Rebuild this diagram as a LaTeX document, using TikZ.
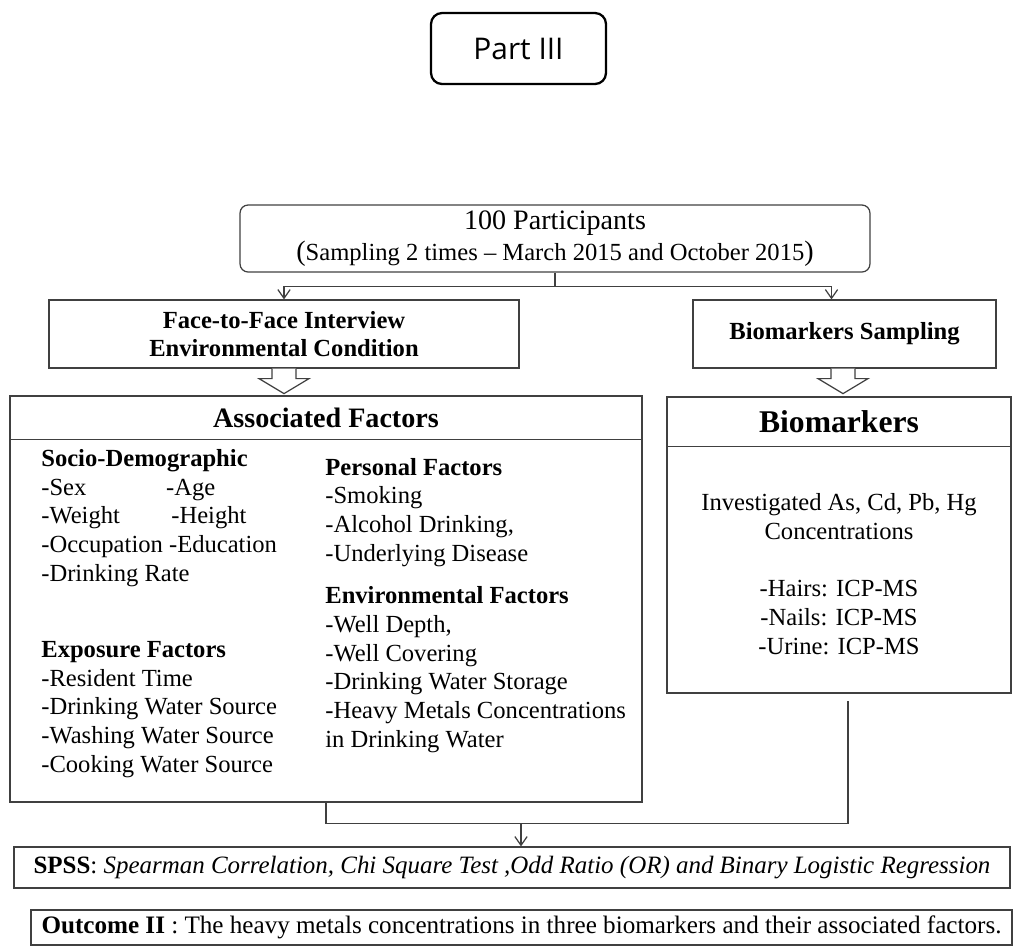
\documentclass[tikz,border=0pt]{standalone}
\usepackage{fontspec}
\setmainfont{Liberation Serif}
\newfontfamily\partfont{Open Sans}
\usetikzlibrary{arrows.meta,calc,positioning}
\definecolor{linegray}{HTML}{404040}

\tikzset{
	box/.style={draw=linegray, line width=0.7pt, rectangle, inner sep=0pt, align=center},
	roundbox/.style={box, rounded corners=0.16cm},
	partbox/.style={draw=black, line width=1.3pt, rounded corners=0.22cm, minimum width=3.5cm, minimum height=1.42cm, font=\partfont\fontsize{17}{20}\selectfont},
	wire/.style={draw=linegray, line width=0.7pt},
	arr/.style={wire, -{Straight Barb[length=5pt,width=7pt]}},
	hollow/.style={draw=linegray, line width=0.7pt, fill=white, line join=miter},
	listtext/.style={inner sep=0pt, align=left, anchor=base west, font=\fontsize{14}{16.3}\selectfont},
	head/.style={font=\bfseries\fontsize{16}{18}\selectfont, inner sep=0pt}
}

\begin{document}
\begin{tikzpicture}[x=0.02cm, y=-0.02cm, font=\fontsize{14}{16.3}\selectfont]
	\useasboundingbox (0,0) rectangle (1014,947);
	% Boxes:
	\node[partbox](part) at (518.5, 48.5){Part III};
	\node[roundbox, minimum width=12.6cm, minimum height=1.34cm](ppl) at (555, 238.5){{\fontsize{16}{18}\selectfont 100 Participants}\\[1pt] {\fontsize{16}{18}\selectfont(}Sampling 2 times -- March 2015 and October 2015{\fontsize{16}{18}\selectfont)}};
	\node[box, minimum width=9.4cm, minimum height=1.36cm, font=\bfseries\fontsize{14}{16.3}\selectfont](f2f) at (284, 334){Face-to-Face Interview\\ Environmental Condition};
	\node[box, minimum width=6.06cm, minimum height=1.36cm, font=\bfseries\fontsize{14}{16.3}\selectfont](bms) at (844.5, 334){Biomarkers Sampling};
	\node[box, minimum width=12.64cm, minimum height=8.12cm](assoc) at (326, 599){};
	\node[box, minimum width=6.88cm, minimum height=5.92cm](bio) at (839, 545){};
	\node[box, minimum width=19.92cm, minimum height=0.82cm, font=\fontsize{14.2}{16.3}\selectfont](spss) at (512, 867.5){\textbf{SPSS}: \textit{Spearman Correlation, Chi Square Test ,Odd Ratio (OR) and Binary Logistic Regression}};
	\node[box, minimum width=19.62cm, minimum height=0.7cm, font=\fontsize{14.3}{16.3}\selectfont](outc) at (521.5, 927.5){\textbf{Outcome II} : The heavy metals concentrations in three biomarkers and their associated factors.};
	\draw[wire] ($(assoc.north west)+(0,44)$) -- ($(assoc.north east)+(0,44)$);
	\draw[wire] ($(bio.north west)+(0,50)$) -- ($(bio.north east)+(0,50)$);
	% Texts in the two big boxes (placed at the baseline of their last line):
	\node[head](assoctitle) at (326, 418){Associated Factors};
	\node[head, font=\bfseries\fontsize{18}{20}\selectfont](biotitle) at (839, 422){Biomarkers};
	\node[listtext](socio) at (41, 581){\textbf{Socio-Demographic}\\ \makebox[71pt][l]{-Sex}-Age\\ \makebox[74pt][l]{-Weight}-Height\\ -Occupation -Education\\ -Drinking Rate};
	\node[listtext](expo) at (41, 772){\textbf{Exposure Factors}\\ -Resident Time\\ -Drinking Water Source\\ -Washing Water Source\\ -Cooking Water Source};
	\node[listtext](pers) at (325, 561){\textbf{Personal Factors}\\ -Smoking\\ -Alcohol Drinking,\\ -Underlying Disease};
	\node[listtext](env) at (325, 747){\textbf{Environmental Factors}\\ -Well Depth,\\ -Well Covering\\ -Drinking Water Storage\\ -Heavy Metals Concentrations\\ in Drinking Water};
	\node[listtext, anchor=base, align=center](biotext) at (839, 654){Investigated As, Cd, Pb, Hg\\ Concentrations\\[16.3pt] -Hairs: ICP-MS\\ -Nails: ICP-MS\\ -Urine: ICP-MS};
	% Wires:
	\draw[wire] (ppl.south) -- ++(0, 14) coordinate (split);
	\draw[arr] (split) -| (f2f.north);
	\draw[arr] (split) -| ($(bms.north)+(-13, 0)$);
	\draw[hollow] ($(f2f.south)+(-12, 0)$) -- ++(0, 10) -- ++(-13, 0) -- ++(25, 15) -- ++(25, -15) -- ++(-13, 0) -- ++(0, -10);
	\draw[hollow] ($(bms.south)+(-13.5, 0)$) -- ++(0, 10) -- ++(-13, 0) -- ++(25, 15) -- ++(25, -15) -- ++(-13, 0) -- ++(0, -10);
	\coordinate (bioout) at ($(bio.south)+(9, 7)$);
	\draw[wire] (assoc.south) -- ++(0, 21) coordinate (merge) -| (bioout);
	\draw[arr] (merge -| 521, 0) -- (spss.north -| 521, 0);
\end{tikzpicture}
\end{document}
